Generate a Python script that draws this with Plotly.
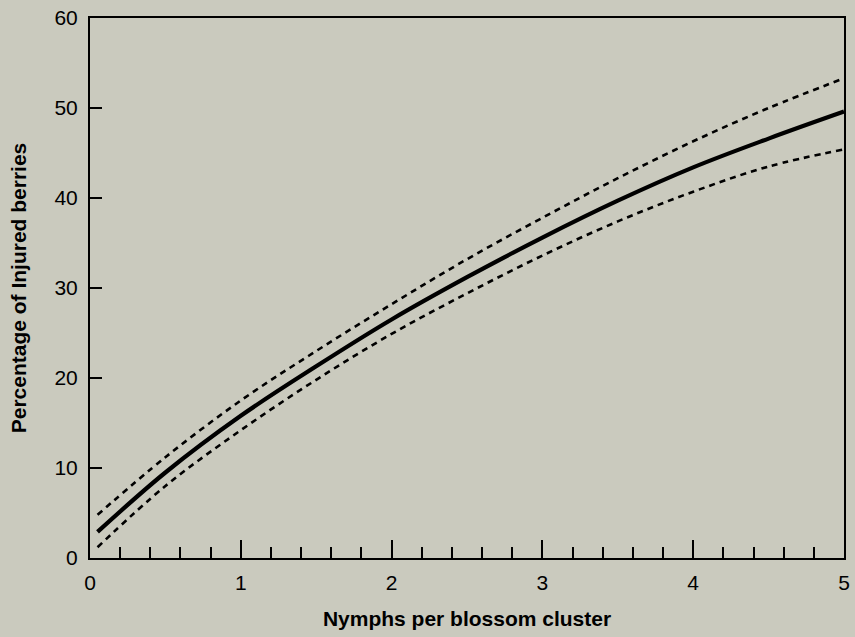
import plotly.graph_objects as go

nymphs = [0.05, 0.5, 1.0, 1.5, 2.0, 2.5, 3.0, 3.5, 4.0, 4.5, 5.0]
injured_fit = [2.9, 9.5, 15.8, 21.3, 26.5, 31.2, 35.6, 39.7, 43.4, 46.6, 49.6]
injured_upper = [4.8, 11.2, 17.5, 23.0, 28.2, 33.2, 37.8, 42.2, 46.3, 50.0, 53.3]
injured_lower = [1.2, 8.0, 14.2, 19.8, 24.9, 29.4, 33.6, 37.4, 40.7, 43.5, 45.4]

x_ticks = [0, 1, 2, 3, 4, 5]
y_ticks = [0, 10, 20, 30, 40, 50, 60]

bg = "#cacabe"
fig = go.Figure()
for ys, dash, w in [(injured_upper, "6px,5px", 2.6), (injured_lower, "6px,5px", 2.6),
                    (injured_fit, "solid", 4.2)]:
    fig.add_trace(go.Scatter(x=nymphs, y=ys, mode="lines",
                             line=dict(color="black", width=w, dash=dash, shape="spline"),
                             showlegend=False, hoverinfo="skip"))

font = "Liberation Sans, Arial, sans-serif"
fig.update_layout(
    width=855, height=637,
    margin=dict(l=90, r=5, t=18, b=79),
    paper_bgcolor=bg, plot_bgcolor=bg,
    font=dict(family=font, size=21, color="black"),
    xaxis=dict(range=[0, 5], tickvals=x_ticks, ticks="inside", ticklen=18, tickwidth=1.5,
               tickcolor="black", showline=True, linecolor="black", linewidth=2, mirror=True,
               showgrid=False, zeroline=False, ticklabelstandoff=5,
               tickfont=dict(size=21),
               minor=dict(dtick=0.2, ticks="inside", ticklen=11, tickwidth=1.5, tickcolor="black", showgrid=False),
               title=dict(text="<b>Nymphs per blossom cluster</b>", standoff=18,
                          font=dict(size=21, family=font))),
    yaxis=dict(range=[0, 60], tickvals=y_ticks, ticks="inside", ticklen=12, tickwidth=1.5,
               tickcolor="black", showline=True, linecolor="black", linewidth=2, mirror=True,
               showgrid=False, zeroline=False, ticklabelstandoff=6,
               tickfont=dict(size=21),
               title=dict(text="<b>Percentage of Injured berries</b>", standoff=22,
                          font=dict(size=21, family=font))),
)
fig.write_html("out.html")
